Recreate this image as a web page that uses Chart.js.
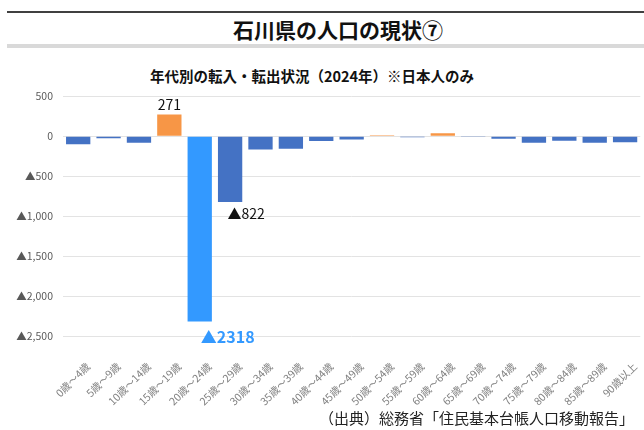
<!DOCTYPE html>
<html lang="ja">
<head>
<meta charset="utf-8">
<script src="https://cdn.jsdelivr.net/npm/chart.js@4"></script>
<style>
  body { margin: 0; background: #fff; font-family: "Noto Sans CJK JP", sans-serif; }
  #wrap { position: relative; width: 644px; height: 430px; overflow: hidden; }
  #topLine { position: absolute; left: 7px; top: 11px; width: 640px; height: 2px; background: #404040; }
  #pageTitle { position: absolute; left: 0; top: 15px; width: 676px; text-align: center;
    font-size: 21px; font-weight: bold; color: #111; line-height: 28px; }
  #greyBar { position: absolute; left: 7px; top: 44px; width: 640px; height: 4px; background: #d9d9d9; }
  #chartTitle { position: absolute; left: 0; top: 66px; width: 624px; text-align: center;
    font-size: 14.5px; font-weight: bold; color: #111; line-height: 20px; }
  #source { position: absolute; right: 10px; top: 408px; font-size: 15px; color: #222; line-height: 20px; }
  #chartBox { position: absolute; left: 0; top: 80px; width: 650px; height: 328px; }
</style>
</head>
<body>
<div id="wrap">
  <div id="topLine"></div>
  <div id="pageTitle">石川県の人口の現状⑦</div>
  <div id="greyBar"></div>
  <div id="chartTitle">年代別の転入・転出状況（2024年）※日本人のみ</div>
  <div id="chartBox"><canvas id="barChart"></canvas></div>
  <div id="source">（出典）総務省「住民基本台帳人口移動報告」</div>
</div>
<script>
// 年代別の転入超過数（マイナスは転出超過）
const ageLabels = ['0歳～4歳', '5歳～9歳', '10歳～14歳', '15歳～19歳', '20歳～24歳',
    '25歳～29歳', '30歳～34歳', '35歳～39歳', '40歳～44歳', '45歳～49歳',
    '50歳～54歳', '55歳～59歳', '60歳～64歳', '65歳～69歳', '70歳～74歳',
    '75歳～79歳', '80歳～84歳', '85歳～89歳', '90歳以上'];
const netMigration = [-100, -25, -80, 271, -2318, -822, -165, -155, -60, -40,
    12, -12, 38, -8, -30, -80, -55, -80, -75];
const yTicks = [500, 0, -500, -1000, -1500, -2000, -2500];
const highlightIdx = 4;          // 20〜24歳を強調
const labeledIdx = [3, 4, 5];    // 数値ラベルを付ける棒

// 軸用（桁区切りあり）とラベル用（なし）
const fmtTick = v => (v < 0 ? '▲' : '') + Math.abs(v).toLocaleString('en-US');
const fmtLabel = v => (v < 0 ? '▲' : '') + Math.abs(v);

// 棒の色
const barColors = netMigration.map((v, i) => {
    if (i === highlightIdx) return '#3399FF';
    return v > 0 ? '#F79646' : '#4472C4';
});

// 数値ラベル用プラグイン
const valueLabels = {
    id: 'valueLabels',
    afterDatasetsDraw(chart) {
        const ctx = chart.ctx;
        const meta = chart.getDatasetMeta(0);
        ctx.save();
        ctx.textAlign = 'center';
        ctx.textBaseline = 'middle';
        labeledIdx.forEach(i => {
            const bar = meta.data[i];
            const v = netMigration[i];
            if (i === highlightIdx) {
                ctx.font = 'bold 16px "Noto Sans CJK JP"';
                ctx.fillStyle = '#3399FF';
                ctx.fillText(fmtLabel(v), bar.x + 28, bar.y + 15);
            } else if (v < 0) {
                ctx.font = '14px "Noto Sans CJK JP"';
                ctx.fillStyle = '#111';
                ctx.fillText(fmtLabel(v), bar.x + 16, bar.y + 12);
            } else {
                ctx.font = '14px "Noto Sans CJK JP"';
                ctx.fillStyle = '#111';
                ctx.fillText(fmtLabel(v), bar.x, bar.y - 10);
            }
        });
        ctx.restore();
    }
};

document.addEventListener('DOMContentLoaded', function () {
    Chart.defaults.font.family = '"Noto Sans CJK JP", sans-serif';
    const ctx = document.getElementById('barChart').getContext('2d');

    new Chart(ctx, {
        type: 'bar',
        data: {
            labels: ageLabels,
            datasets: [{
                data: netMigration,
                backgroundColor: barColors,
                borderWidth: 0,
                barPercentage: 0.8,
                categoryPercentage: 1.0
            }]
        },
        options: {
            responsive: true,
            maintainAspectRatio: false,
            animation: false,
            layout: { padding: { top: 4, left: 0, right: 0, bottom: 0 } },
            plugins: {
                legend: { display: false },
                tooltip: { enabled: false }
            },
            scales: {
                x: {
                    grid: { display: false },
                    border: { display: false },
                    ticks: {
                        color: '#808080',
                        font: { size: 10.5 },
                        maxRotation: 45,
                        minRotation: 45,
                        autoSkip: false,
                        padding: 16,
                        labelOffset: 10
                    },
                    afterFit: s => { s.height = 72; }
                },
                y: {
                    min: -2500,
                    max: 500,
                    afterBuildTicks: s => { s.ticks = yTicks.map(v => ({ value: v })); },
                    grid: { color: '#e3e3e3', drawTicks: false },
                    border: { display: false },
                    ticks: {
                        color: '#595959',
                        font: { size: 10.5 },
                        padding: 10,
                        callback: v => fmtTick(v)
                    },
                    afterFit: s => { s.width = 63; }
                }
            }
        },
        plugins: [valueLabels]
    });
});
</script>
</body>
</html>
